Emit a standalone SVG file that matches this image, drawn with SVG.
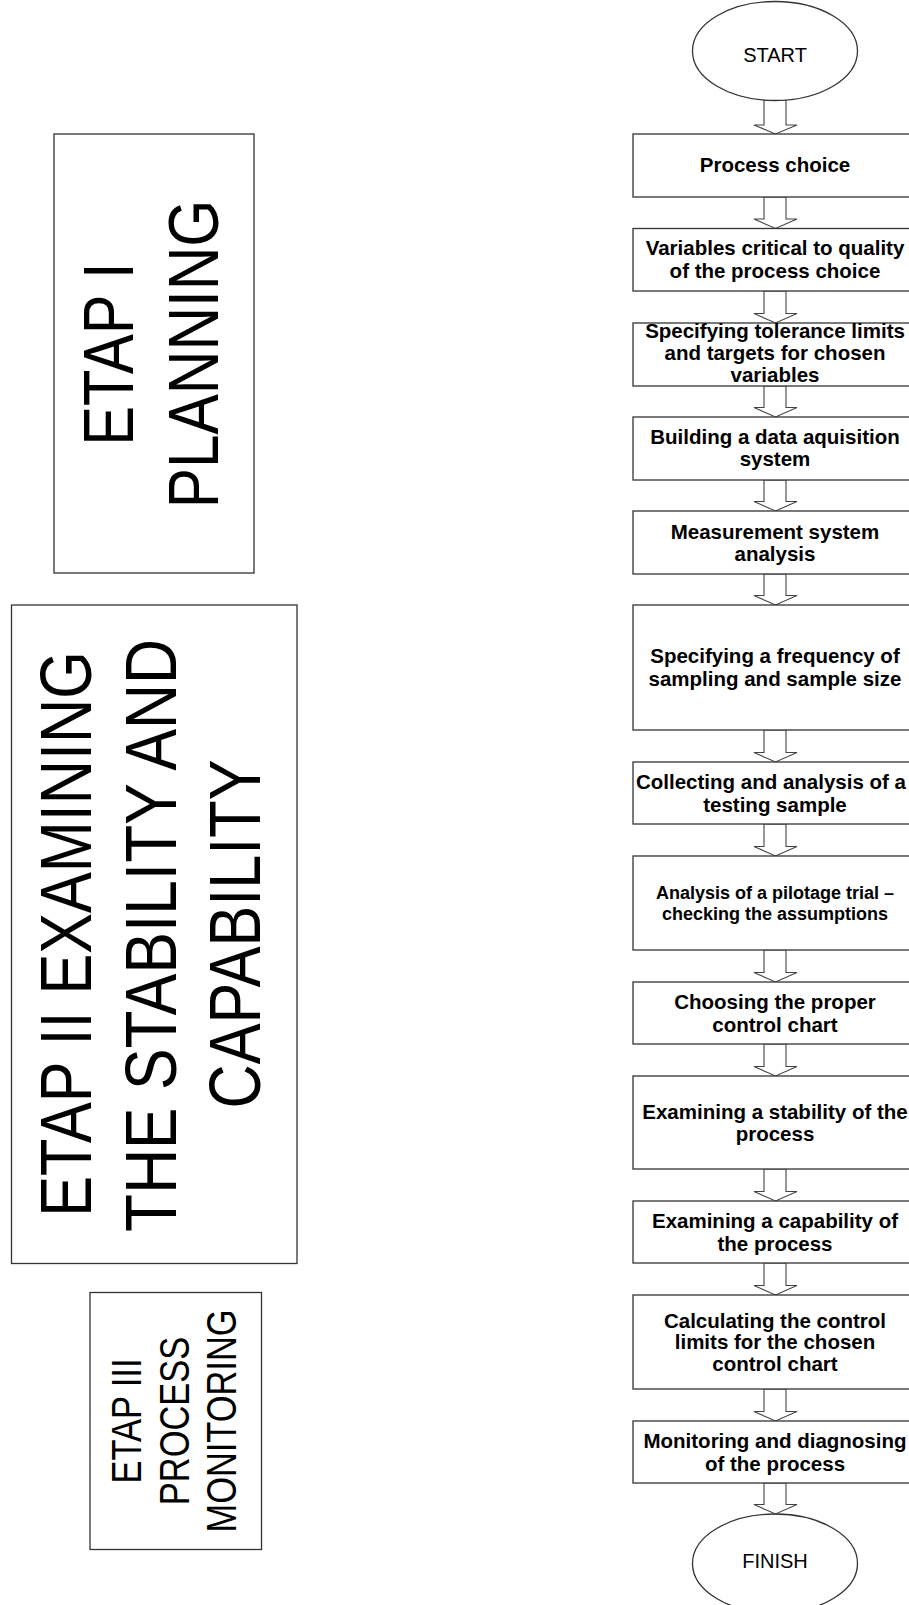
<svg xmlns="http://www.w3.org/2000/svg" width="909" height="1605" viewBox="0 0 909 1605">
<style>
.box{fill:#fff;stroke:#333;stroke-width:1.3}
.arr{fill:#fff;stroke:#444;stroke-width:1.1;stroke-linejoin:miter}
.t{font-family:"Liberation Sans",Arial,sans-serif;font-weight:bold;font-size:20.5px;fill:#000;text-anchor:middle}
.ts{font-family:"Liberation Sans",Arial,sans-serif;font-weight:bold;font-size:18px;fill:#000;text-anchor:middle}
.te{font-family:"Liberation Sans",Arial,sans-serif;font-size:20px;fill:#000;text-anchor:middle}
.big{font-family:"Liberation Sans",Arial,sans-serif;fill:#000;text-anchor:middle}
</style>
<rect width="909" height="1605" fill="#fff"/>
<g id="connectors">
<polygon class="arr" points="764,100.5 764,125 754,125 775.5,134 797,125 786,125 786,100.5"/>
<polygon class="arr" points="764,197 764,219 754,219 775.5,228.5 797,219 786,219 786,197"/>
<polygon class="arr" points="764,291 764,313.5 754,313.5 775.5,323 797,313.5 786,313.5 786,291"/>
<polygon class="arr" points="764,386 764,407.5 754,407.5 775.5,417 797,407.5 786,407.5 786,386"/>
<polygon class="arr" points="764,480 764,501.5 754,501.5 775.5,511 797,501.5 786,501.5 786,480"/>
<polygon class="arr" points="764,574 764,595.5 754,595.5 775.5,605 797,595.5 786,595.5 786,574"/>
<polygon class="arr" points="764,730 764,752.5 754,752.5 775.5,762 797,752.5 786,752.5 786,730"/>
<polygon class="arr" points="764,824 764,846.5 754,846.5 775.5,856 797,846.5 786,846.5 786,824"/>
<polygon class="arr" points="764,950 764,972.5 754,972.5 775.5,982 797,972.5 786,972.5 786,950"/>
<polygon class="arr" points="764,1044 764,1066.5 754,1066.5 775.5,1076 797,1066.5 786,1066.5 786,1044"/>
<polygon class="arr" points="764,1169 764,1191.5 754,1191.5 775.5,1201 797,1191.5 786,1191.5 786,1169"/>
<polygon class="arr" points="764,1263 764,1285.5 754,1285.5 775.5,1295 797,1285.5 786,1285.5 786,1263"/>
<polygon class="arr" points="764,1389 764,1411.5 754,1411.5 775.5,1421 797,1411.5 786,1411.5 786,1389"/>
<polygon class="arr" points="764,1483 764,1504.5 754,1504.5 775.5,1514 797,1504.5 786,1504.5 786,1483"/>
</g>
<g id="start"><ellipse class="box" cx="775" cy="51" rx="82.5" ry="49.5"/><text class="te" x="775" y="62">START</text></g>
<g id="n1"><rect class="box" x="633" y="134" width="290" height="63"/><text class="t" x="775" y="172">Process choice</text></g>
<g id="n2"><rect class="box" x="633" y="228.5" width="290" height="62.5"/><text class="t" x="775" y="255">Variables critical to quality</text><text class="t" x="775" y="277.5">of the process choice</text></g>
<g id="n3"><rect class="box" x="633" y="323" width="290" height="63"/><text class="t" x="775" y="338">Specifying tolerance limits</text><text class="t" x="775" y="360">and targets for chosen</text><text class="t" x="775" y="382">variables</text></g>
<g id="n4"><rect class="box" x="633" y="417" width="290" height="63"/><text class="t" x="775" y="444">Building a data aquisition</text><text class="t" x="775" y="466">system</text></g>
<g id="n5"><rect class="box" x="633" y="511" width="290" height="63"/><text class="t" x="775" y="538.5">Measurement system</text><text class="t" x="775" y="561">analysis</text></g>
<g id="n6"><rect class="box" x="633" y="605" width="290" height="125"/><text class="t" x="775" y="663">Specifying a frequency of</text><text class="t" x="775" y="685.5">sampling and sample size</text></g>
<g id="n7"><rect class="box" x="633" y="762" width="290" height="62"/><text class="t" x="771" y="789">Collecting and analysis of a</text><text class="t" x="775" y="811.5">testing sample</text></g>
<g id="n8"><rect class="box" x="633" y="856" width="290" height="94"/><text class="ts" x="775" y="898.5">Analysis of a pilotage trial –</text><text class="ts" x="775" y="919.5">checking the assumptions</text></g>
<g id="n9"><rect class="box" x="633" y="982" width="290" height="62"/><text class="t" x="775" y="1009">Choosing the proper</text><text class="t" x="775" y="1031.5">control chart</text></g>
<g id="n10"><rect class="box" x="633" y="1076" width="290" height="93"/><text class="t" x="775" y="1119">Examining a stability of the</text><text class="t" x="775" y="1141">process</text></g>
<g id="n11"><rect class="box" x="633" y="1201" width="290" height="62"/><text class="t" x="775" y="1228">Examining a capability of</text><text class="t" x="775" y="1250.5">the process</text></g>
<g id="n12"><rect class="box" x="633" y="1295" width="290" height="94"/><text class="t" x="775" y="1327.5">Calculating the control</text><text class="t" x="775" y="1349">limits for the chosen</text><text class="t" x="775" y="1370.5">control chart</text></g>
<g id="n13"><rect class="box" x="633" y="1421" width="290" height="62"/><text class="t" x="775" y="1448">Monitoring and diagnosing</text><text class="t" x="775" y="1470.5">of the process</text></g>
<g id="finish"><ellipse class="box" cx="775" cy="1563.5" rx="82.5" ry="49.5"/><text class="te" x="775" y="1568">FINISH</text></g>
<g id="etap1"><rect class="box" x="54" y="134" width="200" height="439"/>
<text class="big" font-size="71" transform="translate(133,354) rotate(-90) scale(0.84,1)">ETAP I</text>
<text class="big" font-size="71" transform="translate(218,354) rotate(-90) scale(0.85,1)">PLANNING</text></g>
<g id="etap2"><rect class="box" x="11.5" y="605" width="285.5" height="658.5"/>
<text class="big" font-size="72" transform="translate(91,934) rotate(-90) scale(0.85,1)">ETAP II EXAMINING</text>
<text class="big" font-size="72" transform="translate(176,935.5) rotate(-90) scale(0.865,1)">THE STABILITY AND</text>
<text class="big" font-size="72" transform="translate(260,934) rotate(-90) scale(0.85,1)">CAPABILITY</text></g>
<g id="etap3"><rect class="box" x="90" y="1292.5" width="171.5" height="257"/>
<text class="big" font-size="42.5" transform="translate(140.5,1421) rotate(-90) scale(0.81,1)">ETAP III</text>
<text class="big" font-size="42.5" transform="translate(188.5,1421) rotate(-90) scale(0.81,1)">PROCESS</text>
<text class="big" font-size="42.5" transform="translate(236,1421) rotate(-90) scale(0.81,1)">MONITORING</text></g>
</svg>
